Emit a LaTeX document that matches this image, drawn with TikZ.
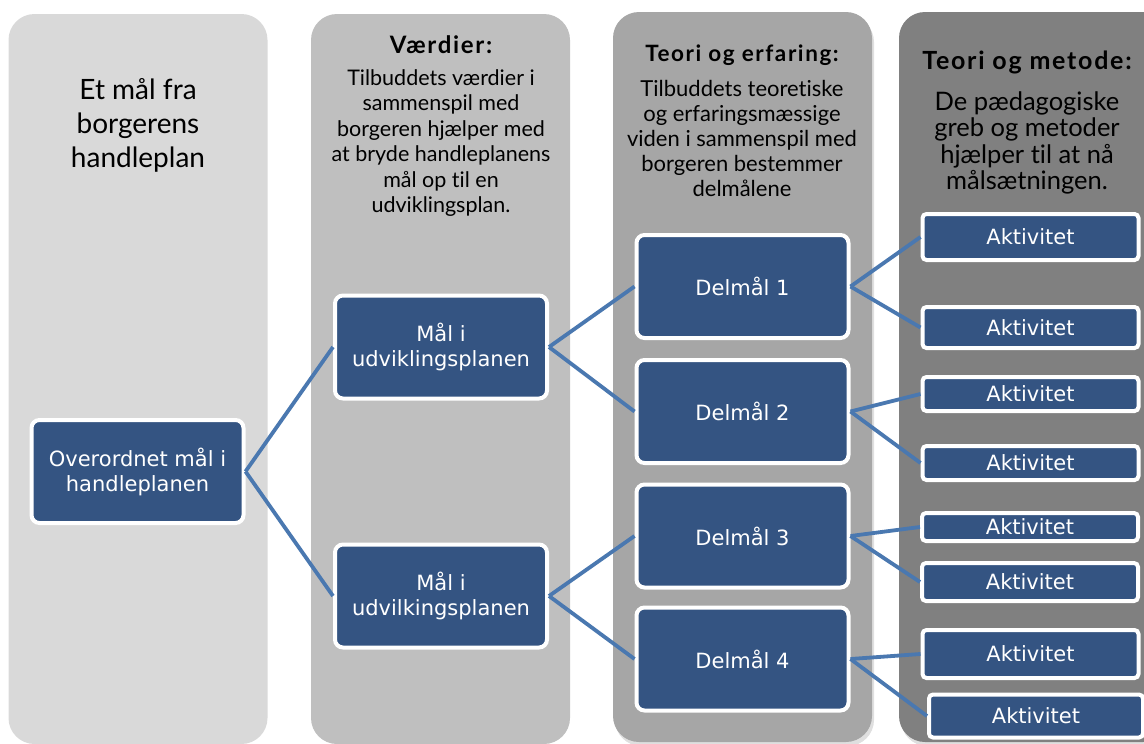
\documentclass[tikz,border=0pt]{standalone}
\usepackage{fontspec}
\setmainfont[Ligatures=NoCommon]{Lato}
\newfontfamily\boxfont{DejaVu Sans}
\usetikzlibrary{positioning, backgrounds, shadows}
\definecolor{NavyBox}{RGB}{52, 84, 130}
\definecolor{LinkBlue}{RGB}{74, 120, 176}
\definecolor{GrayOne}{RGB}{217, 217, 217}
\definecolor{GrayTwo}{RGB}{191, 191, 191}
\definecolor{GrayThree}{RGB}{166, 166, 166}
\definecolor{GrayFour}{RGB}{128, 128, 128}

\begin{document}
\begin{tikzpicture}[
        x=1pt, y=-1pt,
        column/.style={rectangle, rounded corners=26pt, minimum width=259pt, minimum height=730pt, inner sep=0pt},
        soft/.style={drop shadow={shadow xshift=2pt, shadow yshift=-4pt, opacity=0.25}},
        heading/.style={align=center, font=\bfseries\fontsize{#1}{#1}\selectfont\addfontfeatures{LetterSpace=7}},
        goal/.style={rectangle, rounded corners=8pt, draw=white, line width=4pt, fill=NavyBox, text=white, minimum width=212pt, minimum height=103pt, align=center, font=\boxfont\fontsize{21}{25}\selectfont},
        activity/.style={rectangle, rounded corners=4pt, draw=white, line width=4pt, fill=NavyBox, text=white, minimum width=216pt, inner sep=0pt, font=\boxfont\fontsize{21}{22}\selectfont},
        link/.style={draw=LinkBlue, line width=3.8pt}
    ]
        \useasboundingbox (0,0) rectangle (1144,744);

        % Columns
        \node[column, fill=GrayOne] (col1) at (138,379) {};
        \node[column, fill=GrayTwo] (col2) at (440.5,379) {};
        \node[column, fill=GrayThree, soft] (col3) at (742.5,377) {};
        \node[column, fill=GrayFour, soft, minimum width=270pt] (col4) at (1034,377) {};

        % Column texts
        \node[font=\fontsize{28}{34}\selectfont, align=center] (title1) at (138,125) {Et mål fra\\borgerens\\handleplan};
        \node[heading=24] (title2) at (441,45) {Værdier:};
        \node[font=\fontsize{21.5}{25.5}\selectfont, align=center] (text2) at (441,143) {Tilbuddets værdier i\\sammenspil med\\borgeren hjælper med\\at bryde handleplanens\\mål op til en\\udviklingsplan.};
        \node[heading=22.5] (title3) at (742,55) {Teori og erfaring:};
        \node[font=\fontsize{22}{25}\selectfont, align=center] (text3) at (742,138) {Tilbuddets teoretiske\\og erfaringsmæssige\\viden i sammenspil med\\borgeren bestemmer\\delmålene};
        \node[heading=25] (title4) at (1027,62) {Teori og metode:};
        \node[font=\fontsize{25.5}{26.5}\selectfont, align=center] (text4) at (1027,143) {De pædagogiske\\greb og metoder\\hjælper til at nå\\målsætningen.};

        % Goals
        \node[goal] (top) at (137.5,471.5) {Overordnet mål i\\handleplanen};
        \node[goal] (plan1) at (441,347) {Mål i\\udviklingsplanen};
        \node[goal] (plan2) at (441,596) {Mål i\\udvilkingsplanen};
        \node[goal] (sub1) at (742.5,286.5) {Delmål 1};
        \node[goal] (sub2) at (742.5,411.5) {Delmål 2};
        \node[goal] (sub3) at (742.5,536) {Delmål 3};
        \node[goal] (sub4) at (742.5,659) {Delmål 4};

        % Activities
        \node[activity, minimum height=46pt] (act1) at (1030.5,237) {Aktivitet};
        \node[activity, minimum height=41pt] (act2) at (1030.5,327.5) {Aktivitet};
        \node[activity, minimum height=34pt] (act3) at (1030.5,394) {Aktivitet};
        \node[activity, minimum height=34pt] (act4) at (1030.5,463) {Aktivitet};
        \node[activity, minimum height=28pt] (act5) at (1030,527) {Aktivitet};
        \node[activity, minimum height=38pt] (act6) at (1030,582) {Aktivitet};
        \node[activity, minimum height=48pt] (act7) at (1030.5,654) {Aktivitet};
        \node[activity, minimum height=43pt, minimum width=214pt] (act8) at (1036,716) {Aktivitet};

        % Connections
        \draw[link] (top.east) -- (plan1.west);
        \draw[link] (top.east) -- (plan2.west);
        \draw[link] (plan1.east) -- (sub1.west);
        \draw[link] (plan1.east) -- (sub2.west);
        \draw[link] (plan2.east) -- (sub3.west);
        \draw[link] (plan2.east) -- (sub4.west);
        \draw[link] (sub1.east) -- (act1.west);
        \draw[link] (sub1.east) -- (act2.west);
        \draw[link] (sub2.east) -- (act3.west);
        \draw[link] (sub2.east) -- (act4.west);
        \draw[link] (sub3.east) -- (act5.west);
        \draw[link] (sub3.east) -- (act6.west);
        \draw[link] (sub4.east) -- (act7.west);
        \draw[link] (sub4.east) -- (act8.west);
    \end{tikzpicture}
\end{document}
